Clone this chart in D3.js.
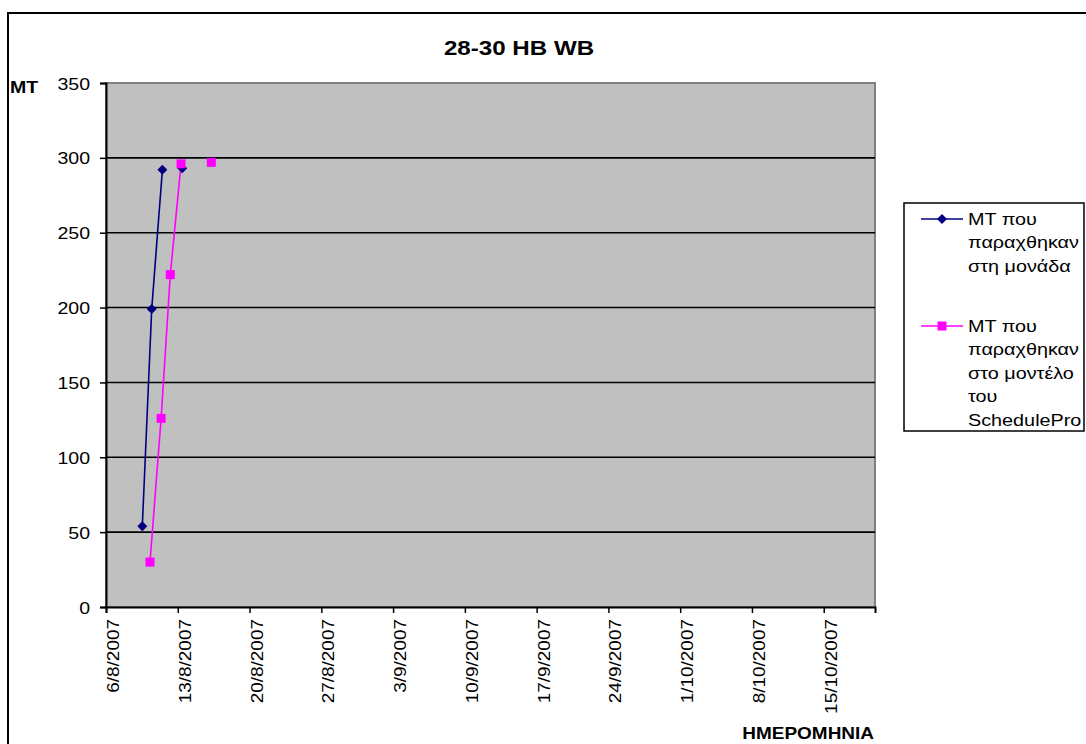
<!DOCTYPE html>
<html>
<head>
<meta charset="utf-8">
<script src="https://cdn.jsdelivr.net/npm/d3@7"></script>
<style>
  html, body { margin: 0; padding: 0; background: #fff; }
  svg { display: block; font-family: "Liberation Sans", Arial, sans-serif; }
</style>
</head>
<body>
<svg id="chart" width="1086" height="744"></svg>
<script>
// Production in the unit vs. the SchedulePro model (MT)
const unitDates  = ["2007-08-09T13:00", "2007-08-10T11:00", "2007-08-11T12:00", "2007-08-12T12:00", "2007-08-13T10:30"];
const unitValues = [54, 199, 292, null, 293];

const modelDates  = ["2007-08-10T07:00", "2007-08-11T09:00", "2007-08-12T06:30", "2007-08-13T07:40", "2007-08-14T12:00", "2007-08-16T06:30"];
const modelValues = [30, 126, 222, 296, null, 297];

const xTickLabels = ["6/8/2007", "13/8/2007", "20/8/2007", "27/8/2007", "3/9/2007", "10/9/2007",
                     "17/9/2007", "24/9/2007", "1/10/2007", "8/10/2007", "15/10/2007"];
const yTicks = [0, 50, 100, 150, 200, 250, 300, 350];

const seriesNames = [
  ["MT που", "παραχθηκαν", "στη μονάδα"],
  ["MT που", "παραχθηκαν", "στο μοντέλο", "του", "SchedulePro"]
];
const seriesColors = ["#000080", "#ff00ff"];

const parse = d3.timeParse("%Y-%m-%dT%H:%M");
const parseTick = d3.timeParse("%d/%m/%Y");
const STRETCH = 1.15;

const svg = d3.select("#chart");
const plot = { left: 106, top: 83, right: 875, bottom: 607 };

const x = d3.scaleTime()
  .domain([parseTick("6/8/2007"), parseTick("20/10/2007")])
  .range([plot.left, plot.right]);
const y = d3.scaleLinear().domain([0, 350]).range([plot.bottom, plot.top]);

// chart frame
svg.append("rect")
  .attr("x", 8).attr("y", 13).attr("width", 1100).attr("height", 760)
  .attr("fill", "#fff").attr("stroke", "#000").attr("stroke-width", 2);

// plot area
svg.append("rect")
  .attr("x", plot.left).attr("y", plot.top)
  .attr("width", plot.right - plot.left).attr("height", plot.bottom - plot.top)
  .attr("fill", "#c0c0c0").attr("stroke", "#808080").attr("stroke-width", 2);

// horizontal gridlines
svg.append("g").selectAll("line")
  .data(yTicks.filter(v => v > 0 && v < 350))
  .join("line")
  .attr("x1", plot.left).attr("x2", plot.right)
  .attr("y1", d => y(d)).attr("y2", d => y(d))
  .attr("stroke", "#000").attr("stroke-width", 1.6);

// y axis
const yAxis = svg.append("g")
  .attr("transform", `translate(${plot.left},0)`)
  .call(d3.axisLeft(y).tickValues(yTicks).tickSize(6).tickPadding(0));
yAxis.select(".domain").attr("stroke", "#000").attr("stroke-width", 2);
yAxis.selectAll(".tick line").attr("stroke", "#000").attr("stroke-width", 1.5);
yAxis.selectAll(".tick text")
  .attr("font-size", 17).attr("fill", "#000")
  .attr("font-family", "Liberation Sans, Arial, sans-serif")
  .attr("x", -16 / STRETCH)
  .attr("dy", "0.36em")
  .attr("transform", `scale(${STRETCH},1)`);

// x axis
const xAxis = svg.append("g")
  .attr("transform", `translate(0,${plot.bottom})`)
  .call(d3.axisBottom(x)
    .tickValues(xTickLabels.map(parseTick))
    .tickFormat((d, i) => xTickLabels[i])
    .tickSize(6));
xAxis.select(".domain").attr("stroke", "#000").attr("stroke-width", 2);
xAxis.selectAll(".tick line").attr("stroke", "#000").attr("stroke-width", 1.5);
xAxis.selectAll(".tick text")
  .attr("font-size", 16.5).attr("fill", "#000")
  .attr("font-family", "Liberation Sans, Arial, sans-serif")
  .attr("text-anchor", "end")
  .attr("x", -12 / STRETCH).attr("y", 12.5).attr("dy", 0)
  .attr("transform", `rotate(-90) scale(${STRETCH},1)`);

// series lines and markers
const line = d3.line()
  .defined(d => d.v != null)
  .x(d => x(d.t)).y(d => y(d.v));

const unit = unitDates.map((d, i) => ({ t: parse(d), v: unitValues[i] }));
const model = modelDates.map((d, i) => ({ t: parse(d), v: modelValues[i] }));

svg.append("path").datum(unit)
  .attr("d", line).attr("fill", "none")
  .attr("stroke", seriesColors[0]).attr("stroke-width", 1.6);
svg.append("path").datum(model)
  .attr("d", line).attr("fill", "none")
  .attr("stroke", seriesColors[1]).attr("stroke-width", 1.6);

const diamond = s => `M0,${-s}L${s},0L0,${s}L${-s},0Z`;
svg.append("g").selectAll("path")
  .data(unit.filter(d => d.v != null)).join("path")
  .attr("transform", d => `translate(${x(d.t)},${y(d.v)})`)
  .attr("d", diamond(5)).attr("fill", seriesColors[0]);
svg.append("g").selectAll("rect")
  .data(model.filter(d => d.v != null)).join("rect")
  .attr("x", d => x(d.t) - 4.5).attr("y", d => y(d.v) - 4.5)
  .attr("width", 9).attr("height", 9).attr("fill", seriesColors[1]);

// title and axis titles
svg.append("text")
  .attr("transform", `translate(519,55) scale(${STRETCH},1)`)
  .attr("text-anchor", "middle").attr("font-size", 21).attr("font-weight", "bold")
  .text("28-30 HB WB");
svg.append("text")
  .attr("transform", `translate(10,93) scale(${STRETCH},1)`)
  .attr("font-size", 17).attr("font-weight", "bold")
  .text("MT");
svg.append("text")
  .attr("transform", `translate(874,739) scale(${STRETCH},1)`)
  .attr("text-anchor", "end").attr("font-size", 16.5).attr("font-weight", "bold")
  .text("ΗΜΕΡΟΜΗΝΙΑ");

// legend
const legend = svg.append("g");
legend.append("rect")
  .attr("x", 904).attr("y", 203).attr("width", 180).attr("height", 228)
  .attr("fill", "#fff").attr("stroke", "#000").attr("stroke-width", 1.5);
const legendTop = [219, 326];
seriesNames.forEach((lines, i) => {
  const cy = legendTop[i];
  legend.append("line")
    .attr("x1", 921).attr("x2", 963).attr("y1", cy).attr("y2", cy)
    .attr("stroke", seriesColors[i]).attr("stroke-width", 1.6);
  if (i === 0) {
    legend.append("path").attr("transform", `translate(942,${cy})`)
      .attr("d", diamond(5)).attr("fill", seriesColors[i]);
  } else {
    legend.append("rect").attr("x", 937.5).attr("y", cy - 4.5)
      .attr("width", 9).attr("height", 9).attr("fill", seriesColors[i]);
  }
  lines.forEach((t, j) => {
    legend.append("text")
      .attr("transform", `translate(968,${cy + 23.5 * j}) scale(1.2,1)`)
      .attr("dy", "0.36em").attr("font-size", 16.5)
      .text(t);
  });
});
</script>
</body>
</html>
